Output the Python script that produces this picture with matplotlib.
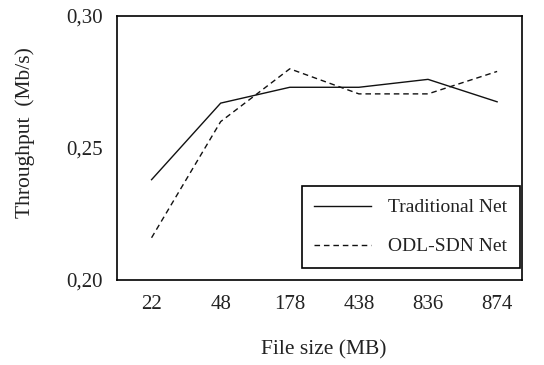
import matplotlib
matplotlib.use("Agg")
import matplotlib.pyplot as plt

categories = ["22", "48", "178", "438", "836", "874"]
traditional = [0.238, 0.267, 0.273, 0.273, 0.276, 0.2675]
odl_sdn = [0.216, 0.260, 0.280, 0.2705, 0.2705, 0.279]
yticks = [0.20, 0.25, 0.30]
ytick_labels = ["0,20", "0,25", "0,30"]

plt.rcParams['font.family'] = ['Liberation Serif']
fig = plt.figure(figsize=(5.44, 3.65), dpi=100)
ax = fig.add_axes([117/544, 1-280/365, (522-117)/544, (280-16)/365])
x = list(range(len(categories)))
ax.plot(x, traditional, color='#111111', lw=1.0, label='Traditional Net')
ax.plot(x, odl_sdn, color='#111111', lw=1.0, ls=(0, (4, 2.8)), label='ODL-SDN Net')
ax.set_xlim(-0.5, 5.36)
ax.set_ylim(0.20, 0.30)
ax.set_xticks(x)
ax.set_xticklabels(categories, fontsize=15, color='#222222')
ax.set_yticks(yticks)
ax.set_yticklabels(ytick_labels, fontsize=15, color='#222222')
ax.tick_params(axis='x', length=0, pad=11)
ax.tick_params(axis='y', length=0, pad=10)
for s in ax.spines.values():
    s.set_linewidth(1.2)
ax.set_xlabel("File size (MB)", fontsize=15.5, color='#222222')
ax.set_ylabel("Throughput  (Mb/s)", fontsize=15.5, color='#222222')
ax.xaxis.set_label_coords(0.511, -0.23)
ax.yaxis.set_label_coords(-0.2025, 0.557)
leg = ax.legend(loc='lower right', fontsize=14, frameon=True, fancybox=False,
                edgecolor='black', framealpha=1, borderpad=0.65, labelspacing=1.1,
                handlelength=2.9, handletextpad=0.9, borderaxespad=0,
                bbox_to_anchor=(0.995, 0.045))
for t in leg.get_texts():
    t.set_color('#222222')
leg.get_frame().set_linewidth(1.2)
fig.savefig("out.png", dpi=100)
